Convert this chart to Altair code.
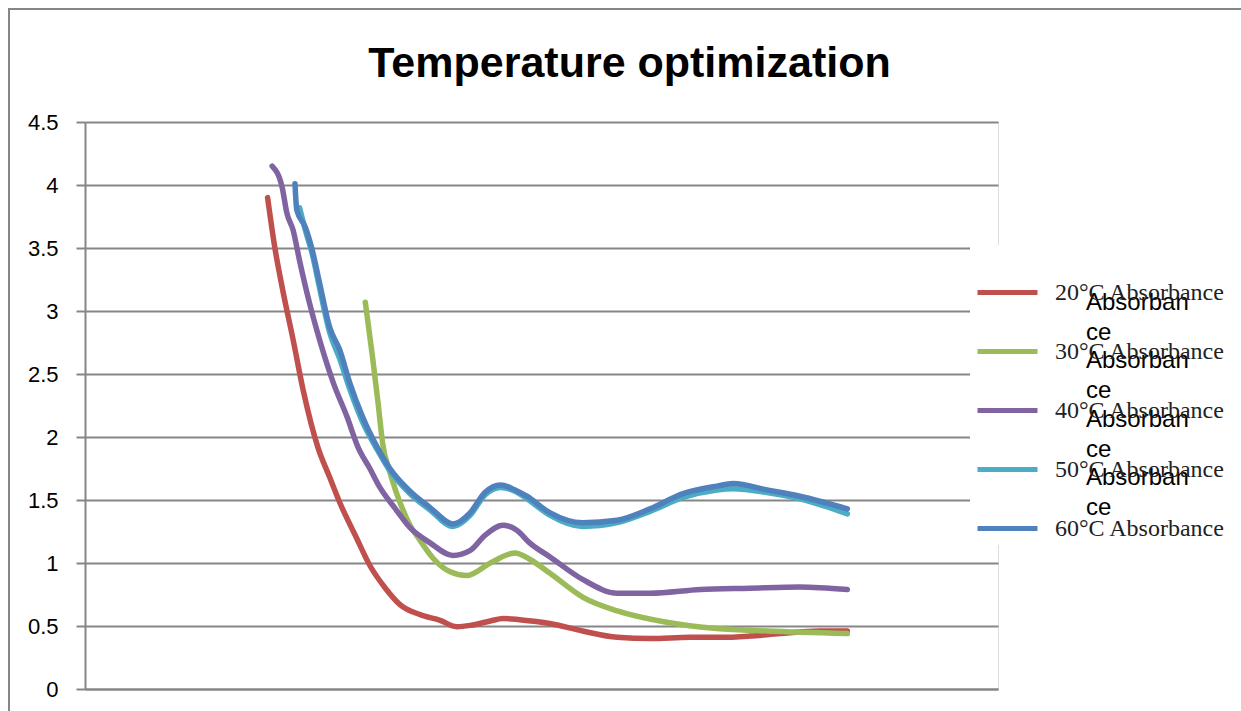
import altair as alt
import pandas as pd

# ---- data (x in arbitrary units 0..100, y = absorbance) ----
series = ["20°C Absorbance", "30°C Absorbance", "40°C Absorbance",
          "50°C Absorbance", "60°C Absorbance"]
colors = ["#C0504D", "#9BBB59", "#8064A2", "#4BACC6", "#4F81BD"]

x20 = [20.0, 20.8, 21.7, 22.8, 23.9, 25.5, 26.8, 27.9, 29.6, 31.2, 32.9, 34.5,
       36.7, 38.9, 40.7, 42.2, 44.4, 45.8, 47.6, 50.9, 54.5, 58.3, 61.9, 66.3,
       69.6, 72.8, 76.1, 80.5, 83.5]
y20 = [3.90, 3.50, 3.15, 2.77, 2.37, 1.92, 1.68, 1.48, 1.22, 0.98, 0.80, 0.67,
       0.59, 0.545, 0.495, 0.505, 0.54, 0.56, 0.55, 0.52, 0.46, 0.41, 0.40, 0.41,
       0.41, 0.42, 0.44, 0.46, 0.46]

x30 = [30.7, 31.5, 32.1, 32.6, 33.4, 34.0, 34.5, 35.6, 36.7, 38.1, 40.0, 41.8,
       44.4, 47.1, 48.7, 50.9, 54.5, 58.3, 63.7, 69.2, 74.7, 83.5]
y30 = [3.07, 2.63, 2.27, 1.95, 1.72, 1.58, 1.48, 1.30, 1.18, 1.04, 0.93, 0.90,
       1.00, 1.08, 1.03, 0.92, 0.73, 0.62, 0.53, 0.48, 0.46, 0.44]

x40 = [20.5, 21.6, 22.1, 22.8, 23.5, 24.6, 25.7, 27.2, 28.7, 29.9, 31.2, 32.3,
       34.0, 35.6, 37.8, 40.3, 42.2, 43.8, 45.8, 47.3, 48.7, 50.9, 54.5, 58.3,
       61.9, 67.4, 72.8, 78.3, 83.5]
y40 = [4.15, 3.98, 3.78, 3.64, 3.40, 3.06, 2.77, 2.43, 2.16, 1.92, 1.75, 1.60,
       1.43, 1.28, 1.16, 1.06, 1.10, 1.22, 1.30, 1.26, 1.16, 1.05, 0.87, 0.76,
       0.76, 0.79, 0.80, 0.81, 0.79]

x50 = [23.5, 24.1, 24.9, 25.7, 26.8, 27.9, 29.0, 30.4, 32.0, 33.4, 35.6, 37.8,
       40.3, 42.2, 43.8, 45.5, 47.1, 48.4, 50.9, 54.5, 58.3, 61.9, 65.5, 69.2,
       71.0, 74.7, 78.3, 83.5]
y50 = [3.82, 3.65, 3.45, 3.18, 2.83, 2.62, 2.38, 2.12, 1.90, 1.73, 1.55, 1.42,
       1.29, 1.38, 1.54, 1.60, 1.57, 1.51, 1.38, 1.29, 1.32, 1.41, 1.52, 1.58,
       1.59, 1.56, 1.51, 1.39]

x60 = [23.0, 23.2, 24.1, 24.9, 25.7, 26.8, 27.9, 29.0, 30.4, 32.0, 33.4, 35.6,
       37.8, 40.3, 42.2, 43.8, 45.5, 47.1, 48.4, 50.9, 54.5, 58.3, 61.9, 65.5,
       69.2, 71.0, 74.7, 78.3, 83.5]
y60 = [4.01, 3.80, 3.67, 3.48, 3.22, 2.87, 2.69, 2.43, 2.16, 1.92, 1.75, 1.57,
       1.44, 1.31, 1.40, 1.56, 1.62, 1.58, 1.53, 1.40, 1.32, 1.34, 1.43, 1.55,
       1.61, 1.63, 1.58, 1.53, 1.43]

y_ticks = [0, 0.5, 1, 1.5, 2, 2.5, 3, 3.5, 4, 4.5]
overlay_text = ["Absorban\nce"] * 4

rows = []
for name, xs, ys in zip(series, [x20, x30, x40, x50, x60], [y20, y30, y40, y50, y60]):
    for i, (xv, yv) in enumerate(zip(xs, ys)):
        rows.append({"series": name, "x": xv, "y": yv, "order": i})
df = pd.DataFrame(rows)

GRAY = "#868686"

lines = alt.Chart(df).mark_line(
    strokeWidth=5.5, interpolate="monotone", strokeCap="round", strokeJoin="round"
).encode(
    x=alt.X("x:Q", scale=alt.Scale(domain=[0, 100], nice=False),
            axis=alt.Axis(labels=False, ticks=False, grid=False, title=None,
                          domain=True, domainColor=GRAY, domainWidth=2)),
    y=alt.Y("y:Q", scale=alt.Scale(domain=[0, 4.5], nice=False),
            axis=alt.Axis(values=y_ticks, title=None, labelExpr="toString(datum.value)",
                          labelFont="Liberation Sans", labelFontSize=22, labelColor="#000000",
                          labelPadding=18, tickSize=9, tickColor=GRAY, tickWidth=2,
                          grid=True, gridColor=GRAY, gridWidth=2,
                          domainColor=GRAY, domainWidth=2)),
    color=alt.Color("series:N", scale=alt.Scale(domain=series, range=colors),
                    legend=alt.Legend(orient="none", legendX=890, legendY=138, title=None,
                                      symbolType="stroke", symbolStrokeWidth=5,
                                      symbolSize=3600, labelFont="Liberation Serif",
                                      labelFontSize=24, labelColor="#222222",
                                      labelLimit=400, labelOffset=15, rowPadding=14,
                                      padding=0)),
    order="order:Q",
)

one = pd.DataFrame({"k": [0]})
left_border = alt.Chart(one).mark_rule(color=GRAY, strokeWidth=2).encode(
    x=alt.value(-76), y=alt.value(-113), y2=alt.value(600))
top_border = alt.Chart(one).mark_rule(color=GRAY, strokeWidth=2).encode(
    x=alt.value(-77), x2=alt.value(1160), y=alt.value(-113))
legend_bg = alt.Chart(one).mark_rect(color="white").encode(
    x=alt.value(885), x2=alt.value(1160), y=alt.value(123), y2=alt.value(423))

ov = pd.DataFrame({"row": list(range(len(overlay_text))), "t": overlay_text})
overlay = alt.Chart(ov).mark_text(
    align="left", baseline="middle", lineBreak="\n", lineHeight=30,
    font="Liberation Sans", fontSize=24, color="#000000"
).encode(
    x=alt.value(1001),
    y=alt.Y("row:Q", scale=alt.Scale(domain=[0, 3], range=[181, 356]), axis=None),
    text="t:N",
)

chart = alt.layer(legend_bg, lines, overlay, left_border, top_border).resolve_scale(
    y="independent"
).properties(
    width=913, height=567,
    autosize=alt.AutoSizeParams(type="none"),
    padding={"left": 85, "top": 122, "right": 243, "bottom": 22},
    title=alt.TitleParams(text="Temperature optimization", font="Liberation Sans",
                          fontSize=43, fontWeight="bold", color="#000000",
                          anchor="middle", baseline="alphabetic", dx=88, dy=112, offset=0,
                          frame="group"),
).configure_view(stroke=None).configure(background="white")

chart.save("out.html", embed_options={"renderer": "svg", "actions": False})
